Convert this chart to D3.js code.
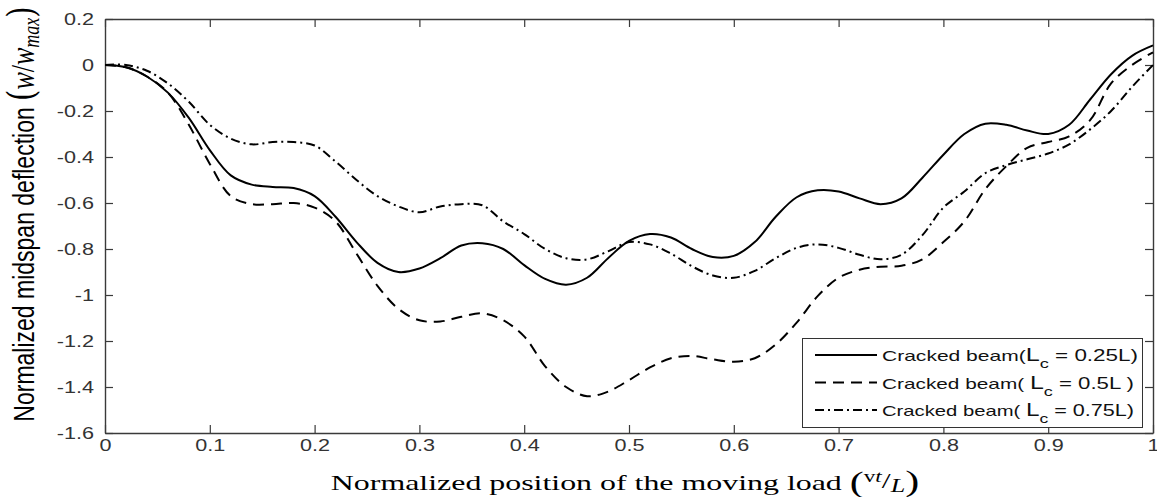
<!DOCTYPE html>
<html>
<head>
<meta charset="utf-8">
<script src="https://cdn.jsdelivr.net/npm/d3@7"></script>
<style>
  body { margin: 0; background: #fff; }
  text { font-family: Arial, "Liberation Sans", sans-serif; }
</style>
</head>
<body>
<svg id="chart" width="1157" height="497"></svg>
<script>
// positions of the moving load (vt/L)
const positions = [0, 0.02, 0.04, 0.06, 0.08, 0.10, 0.12, 0.14, 0.16, 0.18, 0.20,
  0.22, 0.24, 0.26, 0.28, 0.30, 0.32, 0.34, 0.36, 0.38, 0.40,
  0.42, 0.44, 0.46, 0.48, 0.50, 0.52, 0.54, 0.56, 0.58, 0.60,
  0.62, 0.64, 0.66, 0.68, 0.70, 0.72, 0.74, 0.76, 0.78, 0.80,
  0.82, 0.84, 0.86, 0.88, 0.90, 0.92, 0.94, 0.96, 0.98, 1.00];

// Lc = 0.25L (solid)
const crack025 = [0, -0.01, -0.05, -0.12, -0.23, -0.37, -0.48, -0.52, -0.53, -0.535, -0.57,
  -0.66, -0.77, -0.86, -0.90, -0.885, -0.84, -0.785, -0.775, -0.80, -0.87,
  -0.93, -0.955, -0.925, -0.84, -0.765, -0.735, -0.75, -0.80, -0.835, -0.83,
  -0.77, -0.66, -0.575, -0.545, -0.55, -0.58, -0.605, -0.58, -0.49, -0.39,
  -0.30, -0.255, -0.26, -0.285, -0.30, -0.26, -0.15, -0.04, 0.04, 0.085];

// Lc = 0.5L (dashed)
const crack05 = [0, -0.01, -0.05, -0.12, -0.26, -0.43, -0.57, -0.605, -0.605, -0.60, -0.62,
  -0.68, -0.82, -0.96, -1.06, -1.11, -1.115, -1.095, -1.08, -1.11, -1.18,
  -1.31, -1.40, -1.44, -1.42, -1.37, -1.315, -1.275, -1.265, -1.28, -1.29,
  -1.275, -1.215, -1.12, -1.005, -0.925, -0.89, -0.877, -0.873, -0.845, -0.77,
  -0.68, -0.54, -0.44, -0.36, -0.335, -0.31, -0.24, -0.08, 0.0, 0.055];

// Lc = 0.75L (dash-dot)
const crack075 = [0, 0.0, -0.025, -0.08, -0.16, -0.26, -0.32, -0.345, -0.335, -0.335, -0.35,
  -0.42, -0.50, -0.57, -0.615, -0.64, -0.615, -0.605, -0.61, -0.68, -0.735,
  -0.80, -0.84, -0.845, -0.81, -0.77, -0.78, -0.82, -0.875, -0.915, -0.925,
  -0.895, -0.84, -0.795, -0.78, -0.795, -0.825, -0.845, -0.825, -0.74, -0.62,
  -0.55, -0.47, -0.435, -0.41, -0.385, -0.345, -0.28, -0.2, -0.095, 0.0];

const xTicks = [0, 0.1, 0.2, 0.3, 0.4, 0.5, 0.6, 0.7, 0.8, 0.9, 1];
const yTicks = [0.2, 0, -0.2, -0.4, -0.6, -0.8, -1, -1.2, -1.4, -1.6];
const legendLabels = ["0.25L)", "0.5L )", "0.75L)"];

const series = [
  { values: crack025, dash: null, lead: "", label: legendLabels[0], len: 256 },
  { values: crack05, dash: "11,7", lead: " ", label: legendLabels[1], len: 252 },
  { values: crack075, dash: "9,4,2,4", lead: " ", label: legendLabels[2], len: 252 }
];

// the figure is wider than its fonts: stretch text sideways
function widen(sel, k) {
  sel.each(function() {
    const w = this.getComputedTextLength();
    d3.select(this).attr("textLength", w * k).attr("lengthAdjust", "spacingAndGlyphs");
  });
}

const svg = d3.select("#chart");
const margin = {top: 19, right: 4, bottom: 64, left: 105};
const width = 1157 - margin.left - margin.right;
const height = 497 - margin.top - margin.bottom;

const g = svg.append("g").attr("transform", `translate(${margin.left},${margin.top})`);

const x = d3.scaleLinear().domain([0, 1]).range([0, width]);
const y = d3.scaleLinear().domain([-1.6, 0.2]).range([height, 0]);
const fmt = d => String(+d.toFixed(1));

// axes, ticks pointing inside (box on)
const axisColor = "#3a3a3a";
const xAxis = g.append("g").attr("transform", `translate(0,${height})`)
  .call(d3.axisBottom(x).tickValues(xTicks).tickFormat(fmt).tickSizeInner(-8).tickSizeOuter(0).tickPadding(7));
g.append("g")
  .call(d3.axisTop(x).tickValues(xTicks).tickFormat("").tickSizeInner(-8).tickSizeOuter(0));
const yAxis = g.append("g")
  .call(d3.axisLeft(y).tickValues(yTicks).tickFormat(fmt).tickSizeInner(-8).tickSizeOuter(0).tickPadding(11));
g.append("g").attr("transform", `translate(${width},0)`)
  .call(d3.axisRight(y).tickValues(yTicks).tickFormat("").tickSizeInner(-8).tickSizeOuter(0));

g.selectAll(".domain").attr("stroke", axisColor).attr("stroke-width", 1.4);
g.selectAll(".tick line").attr("stroke", axisColor).attr("stroke-width", 1.2);
g.selectAll(".tick text").attr("fill", "#333").style("font-size", "16px")
  .style("font-family", "Arial, 'Liberation Sans', sans-serif");
widen(xAxis.selectAll(".tick text"), 1.35);
widen(yAxis.selectAll(".tick text"), 1.35);

// curves
const line = d3.line()
  .x((d, i) => x(positions[i]))
  .y(d => y(d))
  .curve(d3.curveCatmullRom.alpha(0.5));

series.forEach(s => {
  g.append("path")
    .datum(s.values)
    .attr("fill", "none")
    .attr("stroke", "#000")
    .attr("stroke-width", 2)
    .attr("stroke-dasharray", s.dash)
    .attr("d", line);
});

// y label
const yl = svg.append("text")
  .attr("transform", "translate(34,214) rotate(-90) scale(1,1.28)")
  .attr("text-anchor", "middle")
  .attr("fill", "#000")
  .style("font-size", "23px");
yl.append("tspan").text("Normalized midspan deflection ");
yl.append("tspan").style("font-family", "'DejaVu Serif', serif").style("font-size", "29px").text("(");
yl.append("tspan").style("font-family", "'Liberation Serif', serif").style("font-style", "italic").style("font-size", "26px").text("w");
yl.append("tspan").style("font-family", "'Liberation Serif', serif").style("font-size", "26px").text("/");
yl.append("tspan").style("font-family", "'Liberation Serif', serif").style("font-style", "italic").style("font-size", "26px").text("w");
yl.append("tspan").style("font-family", "'Liberation Serif', serif").style("font-style", "italic").style("font-size", "18px").attr("dy", 4).text("max");
yl.append("tspan").style("font-family", "'DejaVu Serif', serif").style("font-size", "29px").attr("dy", -4).text(")");

// x label
const xl = svg.append("text")
  .attr("transform", "translate(625,490) scale(1.45,1)")
  .attr("text-anchor", "middle")
  .attr("fill", "#000")
  .style("font-family", "'Liberation Serif', 'Times New Roman', serif")
  .style("font-size", "22px");
xl.append("tspan").text("Normalized position of the moving load ");
xl.append("tspan").style("font-size", "29px").attr("dy", 2).text("(");
xl.append("tspan").style("font-size", "16px").attr("dy", -10).text("v");
xl.append("tspan").style("font-size", "16px").style("font-style", "italic").text("t");
xl.append("tspan").style("font-size", "22px").attr("dy", 6).text("/");
xl.append("tspan").style("font-size", "18px").style("font-style", "italic").attr("dy", 4).text("L");
xl.append("tspan").style("font-size", "29px").attr("dy", -1).text(")");

// legend
const lg = svg.append("g");
lg.append("rect")
  .attr("x", 802.5).attr("y", 338.5).attr("width", 340).attr("height", 89)
  .attr("fill", "#fff").attr("stroke", "#333").attr("stroke-width", 1);

series.forEach((s, i) => {
  const cy = 355 + i * 27.5;
  lg.append("line")
    .attr("x1", 815).attr("x2", 877).attr("y1", cy).attr("y2", cy)
    .attr("stroke", "#000").attr("stroke-width", 2)
    .attr("stroke-dasharray", s.dash);
  const t = lg.append("text")
    .attr("x", 882).attr("y", cy + 6)
    .attr("fill", "#111")
    .style("font-size", "15px");
  t.append("tspan").text("Cracked beam(" + s.lead);
  t.append("tspan").style("font-size", "18px").text("L");
  t.append("tspan").style("font-size", "13px").attr("dy", 7).text("c");
  t.append("tspan").attr("dy", -7).style("font-size", "16px").text(" = " + s.label);
  t.attr("textLength", s.len).attr("lengthAdjust", "spacingAndGlyphs");
});
</script>
</body>
</html>
